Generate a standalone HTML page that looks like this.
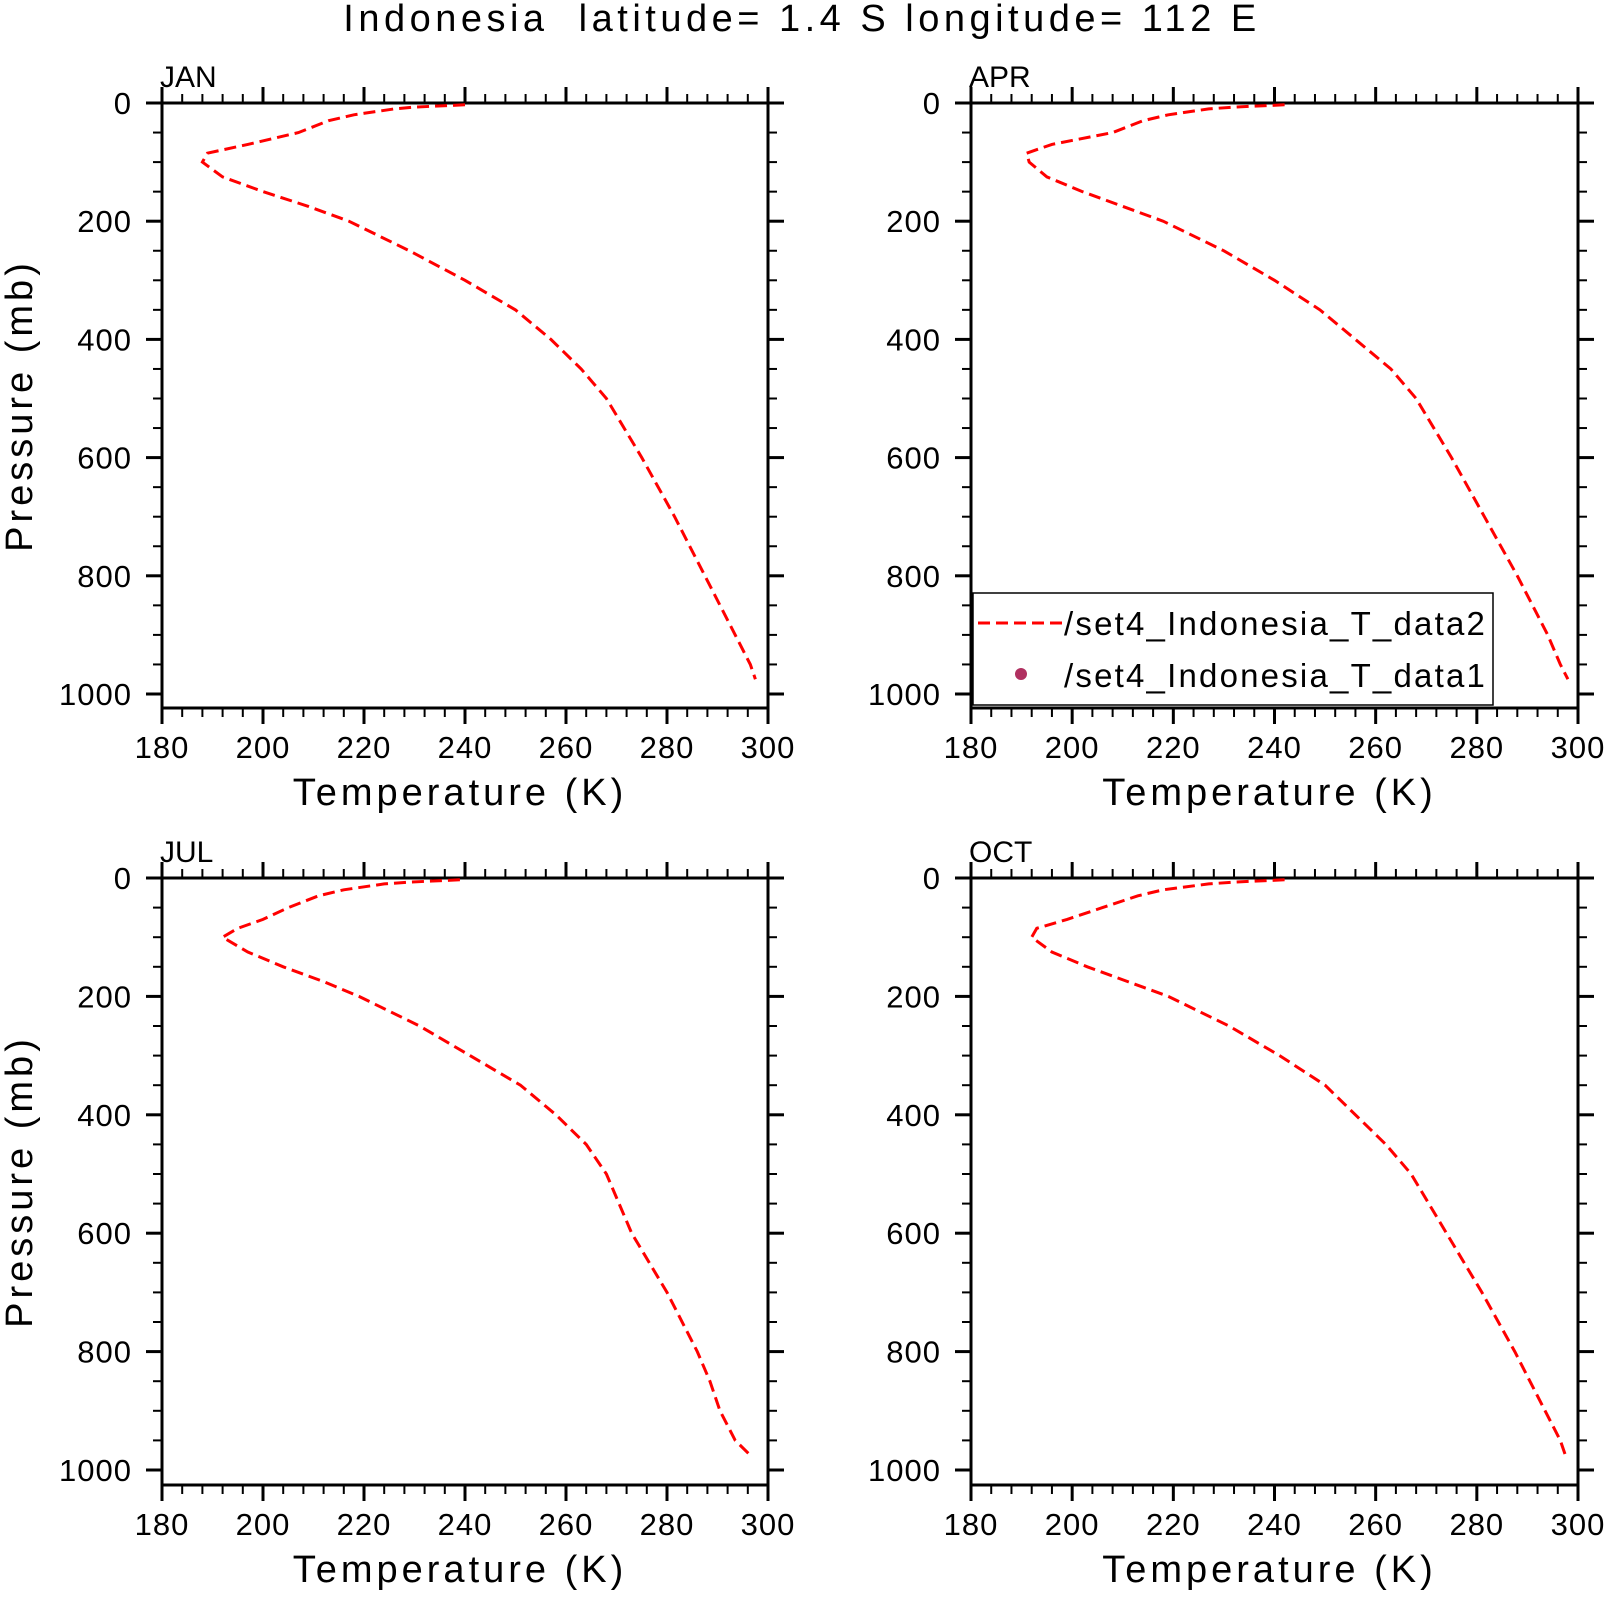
<!DOCTYPE html>
<html><head><meta charset="utf-8">
<style>
html,body{margin:0;padding:0;background:#fff;}
svg{display:block;}
text{font-family:"Liberation Sans","DejaVu Sans",sans-serif;fill:#000;}
</style></head>
<body>
<svg id="chart" width="1606" height="1600" viewBox="0 0 1606 1600" xmlns="http://www.w3.org/2000/svg">
<text x="802" y="31" font-size="38" text-anchor="middle" letter-spacing="4.5">Indonesia&#160;&#160;latitude=&#160;1.4 S longitude=&#160;112 E</text>
<g id="panels"></g>
<g>
<rect x="973" y="593" width="520" height="112" fill="#fff" stroke="#000" stroke-width="1.5"/>
<line x1="978" y1="623" x2="1064" y2="623" stroke="#ff0000" stroke-width="3" stroke-dasharray="12,6"/>
<text x="1064" y="635" font-size="33" letter-spacing="2.2">/set4_Indonesia_T_data2</text>
<circle cx="1021" cy="674" r="6" fill="#b03060"/>
<text x="1064" y="687" font-size="33" letter-spacing="2.2">/set4_Indonesia_T_data1</text>
</g>
</svg>
<script>
const levels = [3,7,10,20,30,50,70,85,100,125,150,175,200,250,300,350,400,450,500,600,700,800,850,900,950,975];
const tJan = [240,230,226,218,213,207,197,189,188,192,200,209,217,229,240,250,257,263,268,275,281.5,287.5,290.5,293.5,296.5,297.5];
const tApr = [242,232,227,219,214,208,196,191,191.5,195,202,210,218,230,240,249,256,263,268,275,281.5,288,291,294,296.5,298];
const tJul = [239,229,224,216,211,205,200,195,192,197,204,212,219,231,241,251,258,264,268,273,280,286,288.5,290.5,293.5,296.5];
const tOct = [242,232,227,218,213,206,199,193,192,196,203,211,219,231,241,250,256,262,267,274,281,287.5,290.5,293.5,296.5,297.5];
const months = ["JAN","APR","JUL","OCT"];
const xTicks = [180,200,220,240,260,280,300];
const yTicks = [0,200,400,600,800,1000];
const series = [tJan,tApr,tJul,tOct];

const NS = "http://www.w3.org/2000/svg";
const root = document.getElementById("panels");
const boxes = [
  {x0:162,x1:768,y0:103,y1000:694,yb:708},
  {x0:971,x1:1578,y0:103,y1000:694,yb:708},
  {x0:162,x1:768,y0:878,y1000:1470,yb:1485},
  {x0:971,x1:1578,y0:878,y1000:1470,yb:1485}
];
function mk(tag, attrs, parent){
  const e = document.createElementNS(NS, tag);
  for (const k in attrs) e.setAttribute(k, attrs[k]);
  parent.appendChild(e);
  return e;
}
boxes.forEach((b, i) => {
  const g = mk("g", {}, root);
  
  
  const sx = t => b.x0 + (t - 180) / 120 * (b.x1 - b.x0);
  const sy = p => b.y0 + p / 1000 * (b.y1000 - b.y0);
  const fr = mk("rect", {x:b.x0, y:b.y0, width:b.x1-b.x0, height:b.yb-b.y0, fill:"none", stroke:"#000", "stroke-width":3}, g);
  
  
  for (let t = 180; t <= 300; t += 4) {
    const major = (t - 180) % 20 === 0;
    const len = major ? 16 : 9;
    const x = sx(t);
    mk("line", {x1:x, y1:b.y0, x2:x, y2:b.y0-len, stroke:"#000", "stroke-width":major?3:2}, g);
    mk("line", {x1:x, y1:b.yb, x2:x, y2:b.yb+len, stroke:"#000", "stroke-width":major?3:2}, g);
  }
  xTicks.forEach(t => {
    const tx = mk("text", {x:sx(t), y:b.yb+50, "font-size":31, "text-anchor":"middle", "letter-spacing":1}, g);
    
    
    tx.textContent = t;
  });
  for (let p = 0; p <= 1000; p += 50) {
    const major = p % 200 === 0;
    const len = major ? 16 : 9;
    const y = sy(p);
    mk("line", {x1:b.x0, y1:y, x2:b.x0-len, y2:y, stroke:"#000", "stroke-width":major?3:2}, g);
    mk("line", {x1:b.x1, y1:y, x2:b.x1+len, y2:y, stroke:"#000", "stroke-width":major?3:2}, g);
  }
  yTicks.forEach(p => {
    const ty = mk("text", {x:b.x0-30, y:sy(p)+11, "font-size":31, "text-anchor":"end", "letter-spacing":1}, g);
    
    
    ty.textContent = p;
  });
  const ml = mk("text", {x:b.x0-2, y:b.y0-16, "font-size":30}, g);
  
  
  ml.textContent = months[i];
  const xt = mk("text", {x:(b.x0+b.x1)/2 - 5, y:b.yb+97, "font-size":38, "text-anchor":"middle", "letter-spacing":4}, g);
  
  
  xt.textContent = "Temperature (K)";
  if (i % 2 === 0) {
    const cy = (b.y0 + b.yb) / 2;
    const yt = mk("text", {x:32, y:cy, "font-size":38, "text-anchor":"middle", "letter-spacing":4, transform:"rotate(-90 32 "+cy+")"}, g);
    
    
    yt.textContent = "Pressure (mb)";
  }
  const d = levels.map((p, k) => (k ? "L" : "M") + sx(series[i][k]).toFixed(1) + "," + sy(p).toFixed(1)).join(" ");
  const line = mk("path", {d:d, fill:"none", stroke:"#ff0000", "stroke-width":3, "stroke-dasharray":"12,6"}, g);
  
  
});
</script>
</body></html>
